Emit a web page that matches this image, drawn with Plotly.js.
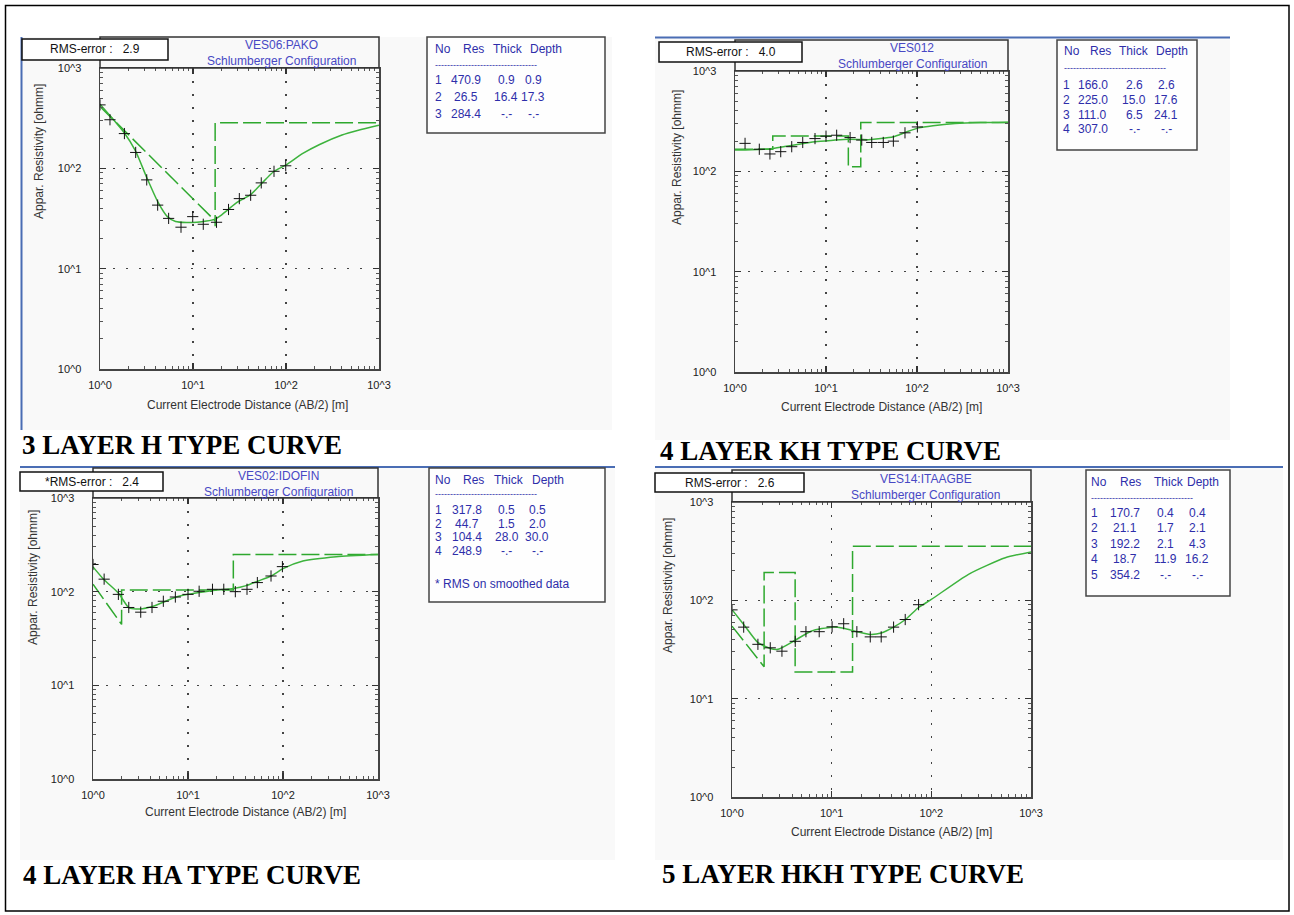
<!DOCTYPE html>
<html><head><meta charset="utf-8">
<script src="https://cdn.plot.ly/plotly-3.0.1.min.js"></script>
<style>html,body{margin:0;padding:0;background:#fff}#chart{width:1294px;height:915px}</style>
</head><body><div id="chart"></div>
<script>
// ---------------- DATA ----------------
const tickVals = [1, 10, 100, 1000];
const tickText = ['10^0', '10^1', '10^2', '10^3'];
const minorVals = [2,3,4,5,6,7,8,9,20,30,40,50,60,70,80,90,200,300,400,500,600,700,800,900];

// Panel 1: VES06:PAKO
const p1Name = 'VES06:PAKO';
const p1Rms = '2.9';
const p1Caption = '3 LAYER H TYPE CURVE';
const p1ObsX = [1, 1.28, 1.83, 2.42, 3.18, 4.17, 5.47, 7.43, 9.93, 12.9, 17.9, 24.1, 31.5, 41.7, 54.2, 74.3, 99.3];
const p1ObsY = [429, 305, 222, 144, 76.7, 43, 31.7, 25.9, 33, 27.7, 29, 38.9, 49.9, 53.9, 71.6, 93.4, 106];
const p1FitX = [1, 1.3, 1.83, 2.4, 3.2, 4.2, 5.3, 6.5, 8.5, 11, 14, 17, 20, 24, 30, 42, 55, 74, 100, 150, 230, 400, 600, 1000];
const p1FitY = [436, 330, 225, 150, 80, 46, 33, 29.5, 28.8, 29, 29.8, 31, 34, 39, 46, 55, 71, 93, 108, 140, 173, 215, 240, 269];
const p1ModX = [1, 17.3, 17.3, 17.3, 1000];
const p1ModY = [414, 30, 26.5, 284.4, 284.4];
const p1Res = [470.9, 26.5, 284.4];
const p1Thick = [0.9, 16.4, null];
const p1Depth = [0.9, 17.3, null];

// Panel 2: VES012
const p2Name = 'VES012';
const p2Rms = '4.0';
const p2Caption = '4 LAYER KH TYPE CURVE';
const p2ObsX = [1.29, 1.85, 2.42, 3.18, 4.2, 5.55, 7.57, 10, 13.1, 18.4, 24.7, 31.8, 42.6, 55, 73.8, 101];
const p2ObsY = [190, 166, 149, 157, 176, 194, 212, 224, 229, 217, 205, 194, 194, 200, 242, 277];
const p2FitX = [1, 1.5, 2.6, 4, 7.6, 12, 17.6, 24, 29, 40, 55, 75, 104, 150, 262, 500, 1000];
const p2FitY = [163, 164, 169, 180, 197, 204, 209, 208, 207, 212, 221, 245, 271, 285, 299, 306, 309];
const p2ModX = [1, 2.6, 2.6, 17.6, 17.6, 24.1, 24.1, 1000];
const p2ModY = [166, 166, 225, 225, 111, 111, 307, 307];
const p2Res = [166.0, 225.0, 111.0, 307.0];
const p2Thick = [2.6, 15.0, 6.5, null];
const p2Depth = [2.6, 17.6, 24.1, null];

// Panel 3: VES02:IDOFIN
const p3Name = 'VES02:IDOFIN';
const p3Rms = '2.4';
const p3Caption = '4 LAYER HA TYPE CURVE';
const p3ObsX = [1, 1.31, 1.85, 2.38, 3.18, 4.18, 5.5, 7.36, 10, 13.1, 18.1, 23.8, 31.5, 41.8, 53.7, 74.8, 98.6];
const p3ObsY = [195, 136, 93.6, 67.8, 60.4, 67.8, 79, 87.7, 93.6, 101, 106, 106, 100, 106, 125, 147, 185];
const p3FitX = [1, 1.3, 1.85, 2.4, 3.1, 4.3, 7.4, 10, 15, 20, 30, 41, 55, 75, 100, 162, 365, 1000];
const p3FitY = [184, 135, 96.7, 67, 65.5, 70, 87, 93.6, 100, 104, 108, 116, 130, 147, 176, 212, 236, 249];
const p3ModX = [1, 2.0, 2.0, 30, 30, 1000];
const p3ModY = [120, 44.7, 104.4, 104.4, 248.9, 248.9];
const p3Res = [317.8, 44.7, 104.4, 248.9];
const p3Thick = [0.5, 1.5, 28.0, null];
const p3Depth = [0.5, 2.0, 30.0, null];

// Panel 4: VES14:ITAAGBE
const p4Name = 'VES14:ITAAGBE';
const p4Rms = '2.6';
const p4Caption = '5 LAYER HKH TYPE CURVE';
const p4ObsX = [1, 1.31, 1.82, 2.42, 3.17, 4.31, 5.52, 7.5, 10.1, 13.2, 17.9, 24.4, 31.4, 41.8, 54.7, 74.5];
const p4ObsY = [80, 53.4, 35.7, 32.9, 30.4, 38.3, 48, 48, 53.8, 57.8, 48, 42.5, 42.5, 53.4, 63.8, 90.3];
const p4FitX = [1, 1.31, 1.82, 2.42, 2.9, 4.3, 6.3, 10, 13.2, 17.9, 24.4, 31.4, 41.8, 55, 75, 100, 236, 552, 1000];
const p4FitY = [80.4, 56.9, 37.2, 32.4, 31.8, 39.3, 48.8, 53.4, 52, 48, 45, 46.5, 53.4, 63.8, 85, 102, 184, 271, 311];
const p4ModX = [1, 2.1, 2.1, 4.3, 4.3, 16.2, 16.2, 1000];
const p4ModY = [54.7, 21.1, 192.2, 192.2, 18.7, 18.7, 354.2, 354.2];
const p4Res = [170.7, 21.1, 192.2, 18.7, 354.2];
const p4Thick = [0.4, 1.7, 2.1, 11.9, null];
const p4Depth = [0.4, 2.1, 4.3, 16.2, null];

// ---------------- LAYOUT GEOMETRY (pixels) ----------------
const W = 1294, H = 915;
const X = px => px / W;
const Y = py => 1 - py / H;

const panels = [
  {s:'', name:p1Name, rms:'RMS-error :\u00a0\u00a0 ' + p1Rms, caption:p1Caption,
   obsX:p1ObsX, obsY:p1ObsY, fitX:p1FitX, fitY:p1FitY, modX:p1ModX, modY:p1ModY,
   res:p1Res, thick:p1Thick, depth:p1Depth,
   plot:{l:100, r:379, t:68, b:369}, frameTop:37, bg:{l:22, r:612, t:37, b:430},
   blue:{x0:21.5, y0:37, x1:21.5, y1:430},
   rmsBox:{l:22, r:168, t:39, b:60}, title:{x:281, y1:45, y2:61},
   tbl:{l:427, r:605, t:37, b:133, hy:49, dy0:65, ry:80, rdy:17, no:438.5, res:466, thick:506, depth:533,
        hNo:433, hRes:473, hThick:507.5, hDepth:546},
   ytitle:{x:39, y:152}, xtitle:{x:248, y:405}, cap:{x:20, y:445}},
  {s:'2', name:p2Name, rms:'RMS-error :\u00a0\u00a0 ' + p2Rms, caption:p2Caption,
   obsX:p2ObsX, obsY:p2ObsY, fitX:p2FitX, fitY:p2FitY, modX:p2ModX, modY:p2ModY,
   res:p2Res, thick:p2Thick, depth:p2Depth,
   plot:{l:735, r:1008, t:71, b:372}, frameTop:40, bg:{l:655, r:1230, t:38, b:440},
   blue:{x0:655, y0:37.5, x1:1230, y1:37.5},
   rmsBox:{l:659, r:802, t:42, b:62}, title:{x:912, y1:48, y2:64},
   tbl:{l:1057, r:1197, t:40, b:150, hy:51, dy0:68, ry:85, rdy:14.8, no:1066, res:1092.5, thick:1134, depth:1166,
        hNo:1062, hRes:1100, hThick:1134, hDepth:1171.5},
   ytitle:{x:677, y:157}, xtitle:{x:881, y:407}, cap:{x:658, y:451}},
  {s:'3', name:p3Name, rms:'*RMS-error :\u00a0\u00a0 ' + p3Rms, caption:p3Caption,
   obsX:p3ObsX, obsY:p3ObsY, fitX:p3FitX, fitY:p3FitY, modX:p3ModX, modY:p3ModY,
   res:p3Res, thick:p3Thick, depth:p3Depth,
   plot:{l:93, r:378, t:498, b:779}, frameTop:468, bg:{l:20, r:615, t:467, b:860},
   blue:{x0:20, y0:467, x1:615, y1:467},
   rmsBox:{l:20, r:163, t:472, b:491}, title:{x:278, y1:476, y2:492},
   tbl:{l:429, r:605, t:468, b:602, hy:480, dy0:494, ry:510, rdy:13.6, no:438.5, res:466.5, thick:506.5, depth:537,
        hNo:433, hRes:473, hThick:508.5, hDepth:548},
   note:{x:433, y:584},
   ytitle:{x:33, y:578}, xtitle:{x:245, y:812}, cap:{x:21, y:875}},
  {s:'4', name:p4Name, rms:'RMS-error :\u00a0\u00a0 ' + p4Rms, caption:p4Caption,
   obsX:p4ObsX, obsY:p4ObsY, fitX:p4FitX, fitY:p4FitY, modX:p4ModX, modY:p4ModY,
   res:p4Res, thick:p4Thick, depth:p4Depth,
   plot:{l:732, r:1031, t:502, b:797}, frameTop:470, bg:{l:655, r:1283, t:467, b:860},
   blue:{x0:655, y0:467, x1:1283, y1:467},
   rmsBox:{l:655, r:804, t:473, b:492}, title:{x:925.5, y1:479, y2:495},
   tbl:{l:1086, r:1230, t:470, b:596, hy:482, dy0:498, ry:513, rdy:15.4, no:1094, res:1124.5, thick:1165, depth:1197,
        hNo:1089, hRes:1130.5, hThick:1168.5, hDepth:1203},
   ytitle:{x:668, y:586}, xtitle:{x:891, y:832}, cap:{x:660, y:874}}
];

// ---------------- BUILD ----------------
const SANS = 'Liberation Sans, Arial, sans-serif';
const SERIF = 'Liberation Serif, Times New Roman, serif';
const TITLE_BLUE = '#4848c4';
const TABLE_BLUE = '#2e2eaa';
const FIT_GREEN = '#3db33d';
const MOD_GREEN = '#2ea82e';
const BLUE_LINE = '#4a6db4';

const traces = [];
const layout = {
  width: W, height: H,
  margin: {l:0, r:0, t:0, b:0, autoexpand:false},
  paper_bgcolor: '#ffffff',
  plot_bgcolor: '#f9f9f9',
  showlegend: false,
  shapes: [],
  annotations: []
};

function axisBase(){
  return {
    type:'log', range:[0,3], fixedrange:true,
    tickmode:'array', tickvals:tickVals, ticktext:tickText,
    ticks:'inside', ticklen:6, tickwidth:1.5, tickcolor:'#333',
    showline:true, linecolor:'#444', linewidth:1.5, mirror:'ticks',
    showgrid:true, gridcolor:'#444', gridwidth:1.5, griddash:'1.5px,11.5px',
    zeroline:false,
    tickfont:{family:SANS, size:11, color:'#222'},
    minor:{tickmode:'array', tickvals:minorVals, ticks:'inside', ticklen:3, tickwidth:1, tickcolor:'#555', showgrid:false}
  };
}
const fmt = v => (v === null ? '-.-' : v.toFixed(1));
const ann = (o) => Object.assign({xref:'paper', yref:'paper', showarrow:false}, o);

// outer border
layout.shapes.push({type:'rect', xref:'paper', yref:'paper', x0:X(5.5), y0:Y(5.5), x1:X(1289), y1:Y(911),
  line:{color:'#000', width:1.5}, fillcolor:'rgba(0,0,0,0)'});

panels.forEach((p, i) => {
  const s = p.s;
  const xa = axisBase();
  xa.domain = [X(p.plot.l), X(p.plot.r)];
  xa.anchor = 'y' + s;
  xa.ticklabelstandoff = 5;
  const ya = axisBase();
  ya.domain = [Y(p.plot.b), Y(p.plot.t)];
  ya.anchor = 'x' + s;
  ya.ticklabelstandoff = 15;
  layout['xaxis' + s] = xa;
  layout['yaxis' + s] = ya;

  traces.push({type:'scatter', mode:'lines', x:p.modX, y:p.modY, xaxis:'x'+s, yaxis:'y'+s,
    line:{color:MOD_GREEN, width:1.5, dash:'18px,5px'}, hoverinfo:'skip'});
  traces.push({type:'scatter', mode:'lines', x:p.fitX, y:p.fitY, xaxis:'x'+s, yaxis:'y'+s,
    line:{color:FIT_GREEN, width:1.5, shape:'spline', smoothing:0.6}, hoverinfo:'skip'});
  traces.push({type:'scatter', mode:'markers', x:p.obsX, y:p.obsY, xaxis:'x'+s, yaxis:'y'+s,
    marker:{symbol:'cross-thin', size:8, color:'#111', line:{color:'#111', width:1}}, hoverinfo:'skip'});

  // background panel
  layout.shapes.push({type:'rect', xref:'paper', yref:'paper', layer:'below',
    x0:X(p.bg.l), x1:X(p.bg.r), y0:Y(p.bg.b), y1:Y(p.bg.t), fillcolor:'#f9f9f9', line:{width:0}});
  // blue separator
  layout.shapes.push({type:'line', xref:'paper', yref:'paper',
    x0:X(p.blue.x0), x1:X(p.blue.x1), y0:Y(p.blue.y0), y1:Y(p.blue.y1), line:{color:BLUE_LINE, width:2}});
  // title frame
  layout.shapes.push({type:'rect', xref:'paper', yref:'paper',
    x0:X(p.plot.l), x1:X(p.plot.r), y0:Y(p.plot.t), y1:Y(p.frameTop), line:{color:'#333', width:1.5}});
  // RMS box
  layout.shapes.push({type:'rect', xref:'paper', yref:'paper',
    x0:X(p.rmsBox.l), x1:X(p.rmsBox.r), y0:Y(p.rmsBox.b), y1:Y(p.rmsBox.t), fillcolor:'#ffffff', line:{color:'#111', width:1.5}});
  // table box
  const t = p.tbl;
  layout.shapes.push({type:'rect', xref:'paper', yref:'paper',
    x0:X(t.l), x1:X(t.r), y0:Y(t.b), y1:Y(t.t), fillcolor:'#fefefe', line:{color:'#444', width:1.5}});

  // texts
  layout.annotations.push(ann({x:X((p.rmsBox.l + p.rmsBox.r)/2), y:Y((p.rmsBox.t + p.rmsBox.b)/2), text:p.rms,
    xanchor:'center', yanchor:'middle', font:{family:SANS, size:12, color:'#111'}}));
  layout.annotations.push(ann({x:X(p.title.x), y:Y(p.title.y1), text:p.name, xanchor:'center', yanchor:'middle',
    font:{family:SANS, size:12, color:TITLE_BLUE}}));
  layout.annotations.push(ann({x:X(p.title.x), y:Y(p.title.y2), text:'Schlumberger Configuration', xanchor:'center', yanchor:'middle',
    font:{family:SANS, size:12, color:TITLE_BLUE}}));
  layout.annotations.push(ann({x:X(p.ytitle.x), y:Y(p.ytitle.y), text:'Appar. Resistivity [ohmm]', textangle:-90,
    xanchor:'center', yanchor:'middle', font:{family:SANS, size:12, color:'#333'}}));
  layout.annotations.push(ann({x:X(p.xtitle.x), y:Y(p.xtitle.y), text:'Current Electrode Distance (AB/2) [m]',
    xanchor:'center', yanchor:'middle', font:{family:SANS, size:12, color:'#333'}}));
  layout.annotations.push(ann({x:X(p.cap.x), y:Y(p.cap.y), text:'<b>' + p.caption + '</b>',
    xanchor:'left', yanchor:'middle', font:{family:SERIF, size:27, color:'#000'}}));

  // table
  const tf = {family:SANS, size:12, color:TABLE_BLUE};
  layout.annotations.push(ann({x:X(t.hNo), y:Y(t.hy), text:'No', xanchor:'left', yanchor:'middle', font:tf}));
  layout.annotations.push(ann({x:X(t.hRes), y:Y(t.hy), text:'Res', xanchor:'center', yanchor:'middle', font:tf}));
  layout.annotations.push(ann({x:X(t.hThick), y:Y(t.hy), text:'Thick', xanchor:'center', yanchor:'middle', font:tf}));
  layout.annotations.push(ann({x:X(t.hDepth), y:Y(t.hy), text:'Depth', xanchor:'center', yanchor:'middle', font:tf}));
  layout.annotations.push(ann({x:X(t.hNo), y:Y(t.dy0), text:'-'.repeat(34), xanchor:'left', yanchor:'middle',
    font:{family:SANS, size:9, color:TABLE_BLUE}}));
  p.res.forEach((r, k) => {
    const yy = Y(t.ry + k * t.rdy);
    layout.annotations.push(ann({x:X(t.no), y:yy, text:String(k + 1), xanchor:'center', yanchor:'middle', font:tf}));
    layout.annotations.push(ann({x:X(t.res), y:yy, text:fmt(r), xanchor:'center', yanchor:'middle', font:tf}));
    layout.annotations.push(ann({x:X(t.thick), y:yy, text:fmt(p.thick[k]), xanchor:'center', yanchor:'middle', font:tf}));
    layout.annotations.push(ann({x:X(t.depth), y:yy, text:fmt(p.depth[k]), xanchor:'center', yanchor:'middle', font:tf}));
  });
  if (p.note) {
    layout.annotations.push(ann({x:X(p.note.x), y:Y(p.note.y), text:'* RMS on smoothed data', xanchor:'left', yanchor:'middle', font:tf}));
  }
});

Plotly.newPlot('chart', traces, layout, {staticPlot:true, displayModeBar:false});
</script>
</body></html>
